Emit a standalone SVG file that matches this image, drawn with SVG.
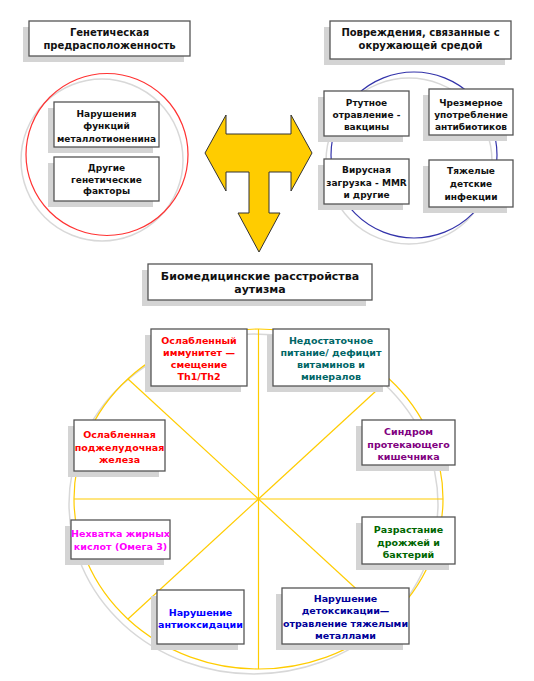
<svg xmlns="http://www.w3.org/2000/svg" width="534" height="681" viewBox="0 0 534 681">
<style>
.sh{fill:#d4d4d4}
.bx{fill:#fff;stroke:#555;stroke-width:1.3}
text{font-family:"DejaVu Sans","Liberation Sans",sans-serif;font-weight:bold;text-anchor:middle}
.t10{font-size:10px;fill:#111}
.t9{font-size:9px;fill:#111}
.t11{font-size:11px;fill:#111}
.b{font-size:9.5px}
.yl{stroke:#FFCC00;stroke-width:1.2;fill:none}
</style>
<rect width="534" height="681" fill="#fff"/>

<g id="circles">
<circle cx="102" cy="160" r="81" fill="none" stroke="#d8d8d8" stroke-width="1.5"/>
<circle cx="107" cy="154.5" r="81" fill="none" stroke="#ff3333" stroke-width="1.2"/>
<circle cx="409" cy="161" r="83" fill="none" stroke="#d8d8d8" stroke-width="1.5"/>
<circle cx="414" cy="155" r="83" fill="none" stroke="#3333aa" stroke-width="1.2"/>
<ellipse cx="253.5" cy="504" rx="184.5" ry="170" fill="none" stroke="#d8d8d8" stroke-width="1.5"/>
</g>

<g id="connectors">
<ellipse class="yl" cx="258.5" cy="499" rx="184.5" ry="170" stroke-width="1.5"/>
<line class="yl" x1="74" y1="499" x2="443" y2="499"/>
<line class="yl" x1="258.5" y1="329" x2="258.5" y2="669"/>
<line class="yl" x1="128" y1="379" x2="389" y2="619"/>
<line class="yl" x1="128" y1="619" x2="389" y2="379"/>
</g>

<g id="arrow">
<path d="M205,153 L226,115 L226,134 L291,134 L291,115 L312,153 L291,191 L291,172 L269,172 L269,213 L280,213 L259,252 L238,213 L249,213 L249,172 L226,172 L226,191 Z" fill="#FFCC00" stroke="#333" stroke-width="1"/>
</g>

<g id="genetic">
<rect class="sh" x="23" y="27" width="161" height="35"/>
<rect class="bx" x="29" y="21" width="161" height="35"/>
<text class="t10" x="109.5" y="35.5">Генетическая</text>
<text class="t10" x="109.5" y="48.5">предрасположенность</text>
</g>

<g id="environment">
<rect class="sh" x="324" y="27" width="181" height="38"/>
<rect class="bx" x="330" y="21" width="181" height="38"/>
<text class="t10" x="420.5" y="36">Повреждения, связанные с</text>
<text class="t10" x="420.5" y="49">окружающей средой</text>
</g>

<g id="metallothionein">
<rect class="sh" x="48" y="108" width="105" height="45"/>
<rect class="bx" x="54" y="102" width="105" height="45"/>
<text class="t9" x="106.5" y="116.5">Нарушения</text>
<text class="t9" x="106.5" y="129">функций</text>
<text class="t9" x="106.5" y="141.5">металлотионенина</text>
</g>

<g id="other-genetic">
<rect class="sh" x="48" y="163" width="105" height="44"/>
<rect class="bx" x="54" y="157" width="105" height="44"/>
<text class="t9" x="106.5" y="171">Другие</text>
<text class="t9" x="106.5" y="182.5">генетические</text>
<text class="t9" x="106.5" y="194">факторы</text>
</g>

<g id="mercury">
<rect class="sh" x="318" y="97" width="85" height="45"/>
<rect class="bx" x="324" y="91" width="85" height="45"/>
<text class="t9" x="366.5" y="106">Ртутное</text>
<text class="t9" x="366.5" y="118">отравление -</text>
<text class="t9" x="366.5" y="130">вакцины</text>
</g>

<g id="antibiotics">
<rect class="sh" x="423" y="95" width="84" height="46"/>
<rect class="bx" x="429" y="89" width="84" height="46"/>
<text class="t9" x="471" y="105.5">Чрезмерное</text>
<text class="t9" x="471" y="117.5">употребление</text>
<text class="t9" x="471" y="129.5">антибиотиков</text>
</g>

<g id="viral">
<rect class="sh" x="318" y="165" width="85" height="45"/>
<rect class="bx" x="324" y="159" width="85" height="45"/>
<text class="t9" x="366.5" y="173">Вирусная</text>
<text class="t9" x="366.5" y="185.5">загрузка - MMR</text>
<text class="t9" x="366.5" y="197.5">и другие</text>
</g>

<g id="infections">
<rect class="sh" x="423" y="166" width="84" height="47"/>
<rect class="bx" x="429" y="160" width="84" height="47"/>
<text class="t9" x="471" y="174">Тяжелые</text>
<text class="t9" x="471" y="187">детские</text>
<text class="t9" x="471" y="199.5">инфекции</text>
</g>

<g id="biomedical">
<rect class="sh" x="142" y="270" width="224" height="36"/>
<rect class="bx" x="148" y="264" width="224" height="36"/>
<text class="t11" x="260" y="280">Биомедицинские расстройства</text>
<text class="t11" x="260" y="293">аутизма</text>
</g>

<g id="immunity">
<rect class="sh" x="145" y="335" width="96" height="57"/>
<rect class="bx" x="151" y="329" width="96" height="57"/>
<text class="b" fill="#ff0000" x="199" y="343.5">Ослабленный</text>
<text class="b" fill="#ff0000" x="199" y="356">иммунитет —</text>
<text class="b" fill="#ff0000" x="199" y="368">смещение</text>
<text class="b" fill="#ff0000" x="199" y="380">Th1/Th2</text>
</g>

<g id="nutrition">
<rect class="sh" x="267" y="335" width="116" height="57"/>
<rect class="bx" x="273" y="329" width="116" height="57"/>
<text class="b" fill="#006666" x="331" y="343.5">Недостаточное</text>
<text class="b" fill="#006666" x="331" y="356">питание/ дефицит</text>
<text class="b" fill="#006666" x="331" y="368">витаминов и</text>
<text class="b" fill="#006666" x="331" y="380">минералов</text>
</g>

<g id="leaky-gut">
<rect class="sh" x="356" y="426" width="93" height="45"/>
<rect class="bx" x="362" y="420" width="93" height="45"/>
<text class="b" fill="#800080" x="408.5" y="435">Синдром</text>
<text class="b" fill="#800080" x="408.5" y="447.5">протекающего</text>
<text class="b" fill="#800080" x="408.5" y="459.5">кишечника</text>
</g>

<g id="pancreas">
<rect class="sh" x="68" y="426" width="91" height="51"/>
<rect class="bx" x="74" y="420" width="91" height="51"/>
<text class="b" fill="#ff0000" x="119.5" y="438">Ослабленная</text>
<text class="b" fill="#ff0000" x="119.5" y="450.5">поджелудочная</text>
<text class="b" fill="#ff0000" x="119.5" y="462.5">железа</text>
</g>

<g id="omega3">
<rect class="sh" x="65" y="526" width="99" height="39"/>
<rect class="bx" x="71" y="520" width="99" height="39"/>
<text class="b" fill="#ff00ff" x="120.5" y="537">Нехватка жирных</text>
<text class="b" fill="#ff00ff" x="120.5" y="550">кислот (Омега 3)</text>
</g>

<g id="yeast">
<rect class="sh" x="356" y="523" width="93" height="47"/>
<rect class="bx" x="362" y="517" width="93" height="47"/>
<text class="b" fill="#006600" x="408.5" y="533">Разрастание</text>
<text class="b" fill="#006600" x="408.5" y="545.5">дрожжей и</text>
<text class="b" fill="#006600" x="408.5" y="557.5">бактерий</text>
</g>

<g id="antioxidation">
<rect class="sh" x="151" y="596" width="87" height="54"/>
<rect class="bx" x="157" y="590" width="87" height="54"/>
<text class="b" fill="#0000ff" x="200.5" y="616">Нарушение</text>
<text class="b" fill="#0000ff" x="200.5" y="628">антиоксидации</text>
</g>

<g id="detox">
<rect class="sh" x="276" y="594" width="127" height="56"/>
<rect class="bx" x="282" y="588" width="127" height="56"/>
<text class="b" fill="#000099" x="345.5" y="602">Нарушение</text>
<text class="b" fill="#000099" x="345.5" y="614">детоксикации—</text>
<text class="b" fill="#000099" x="345.5" y="626.5">отравление тяжелыми</text>
<text class="b" fill="#000099" x="345.5" y="639">металлами</text>
</g>
</svg>
